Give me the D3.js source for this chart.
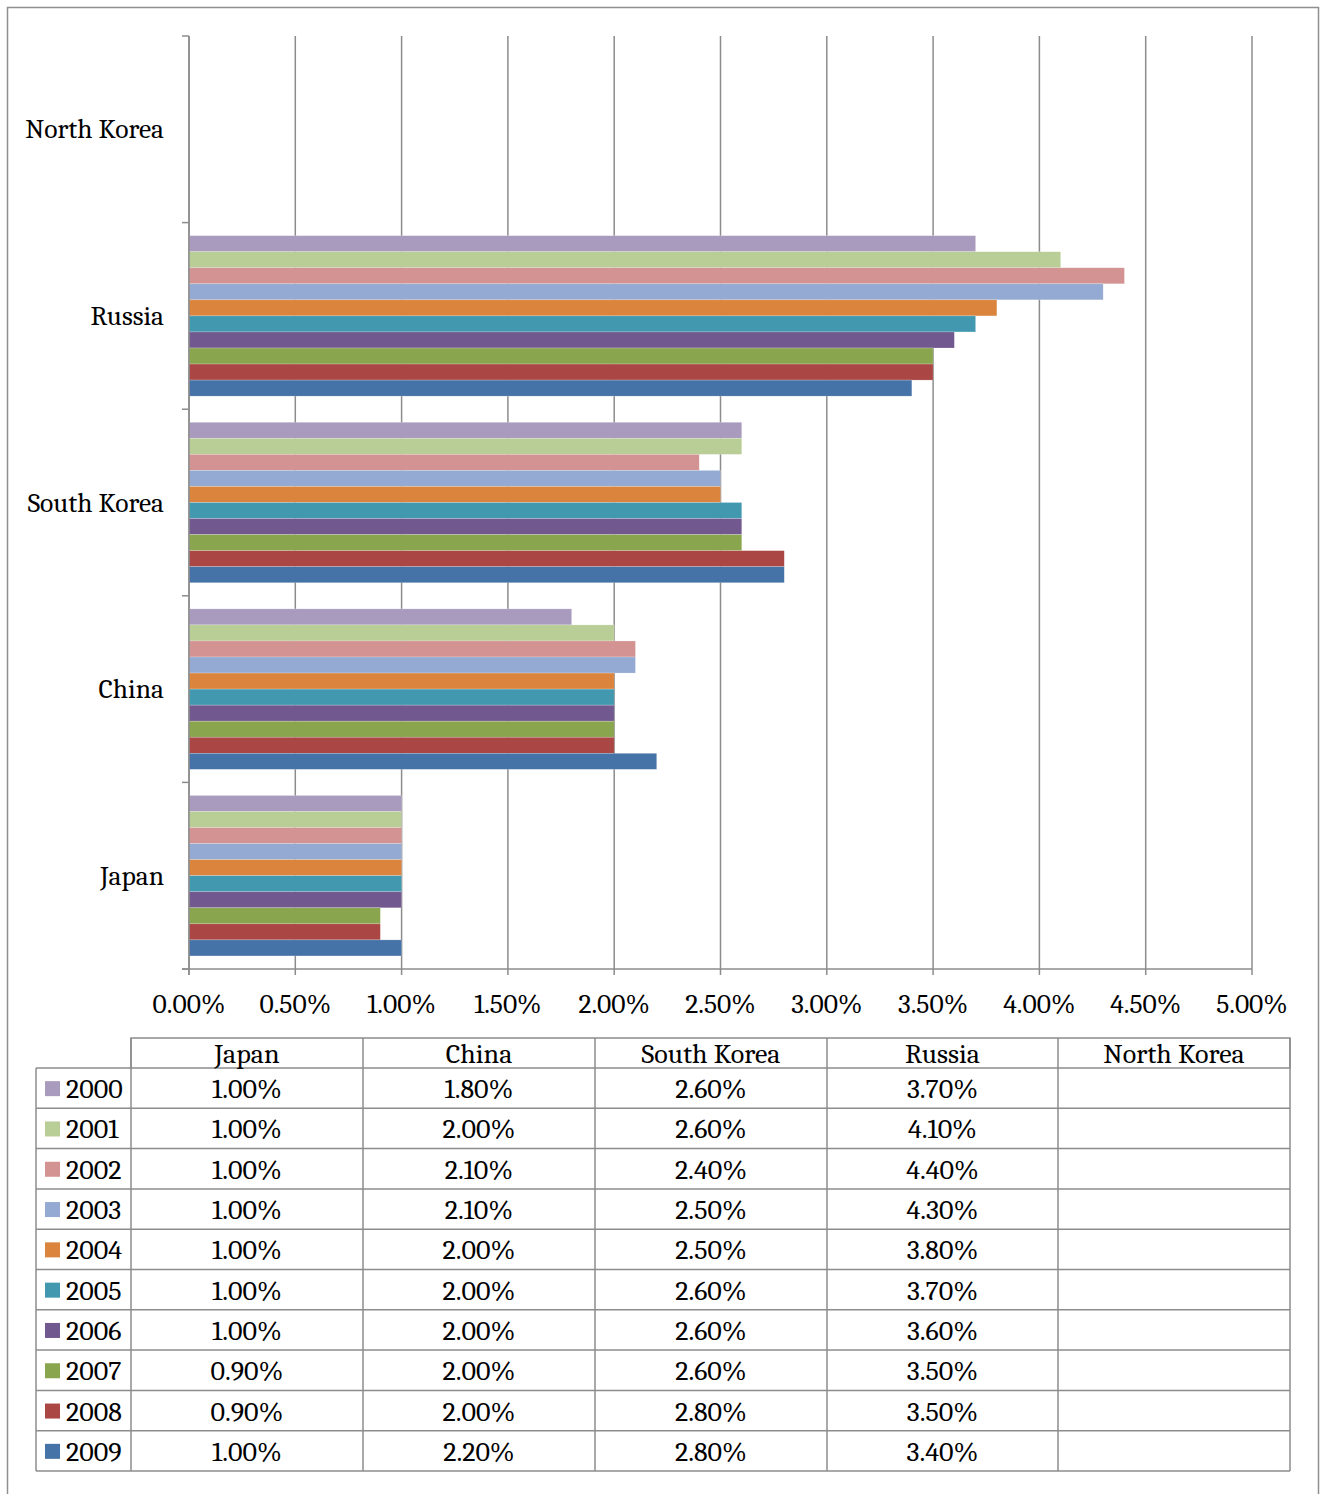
<!DOCTYPE html>
<html>
<head>
<meta charset="utf-8">
<script src="https://cdn.jsdelivr.net/npm/d3@7"></script>
<style>
  html, body { margin: 0; padding: 0; background: #fff; }
  svg { display: block; }
</style>
</head>
<body>
<svg id="chart" width="1321" height="1494"></svg>
<script>
// ---- data ----
const categories = ["Japan", "China", "South Korea", "Russia", "North Korea"];
const years = ["2000", "2001", "2002", "2003", "2004", "2005", "2006", "2007", "2008", "2009"];
const colors = ["#A99BBD", "#B9CD96", "#D39392", "#94AAD2", "#DB843D", "#4198AF", "#71588F", "#89A54E", "#AA4643", "#4572A7"];
const v2000 = [1.00, 1.80, 2.60, 3.70, null];
const v2001 = [1.00, 2.00, 2.60, 4.10, null];
const v2002 = [1.00, 2.10, 2.40, 4.40, null];
const v2003 = [1.00, 2.10, 2.50, 4.30, null];
const v2004 = [1.00, 2.00, 2.50, 3.80, null];
const v2005 = [1.00, 2.00, 2.60, 3.70, null];
const v2006 = [1.00, 2.00, 2.60, 3.60, null];
const v2007 = [0.90, 2.00, 2.60, 3.50, null];
const v2008 = [0.90, 2.00, 2.80, 3.50, null];
const v2009 = [1.00, 2.20, 2.80, 3.40, null];
const seriesValues = [v2000, v2001, v2002, v2003, v2004, v2005, v2006, v2007, v2008, v2009];
const xTicks = [0, 0.5, 1, 1.5, 2, 2.5, 3, 3.5, 4, 4.5, 5];

const FONT = "Cambria, 'DejaVu Serif', serif";
const FS = 27.5;
const FST = 28;
const GRID = "#8c8c8c";

const svg = d3.select("#chart");

// outer frame
svg.append("rect").attr("x", 7.5).attr("y", 7.5).attr("width", 1311).attr("height", 1500)
  .attr("fill", "none").attr("stroke", "#8f8f8f").attr("stroke-width", 1.5);

const plot = { left: 189, right: 1252, top: 36, bottom: 969 };
const x = d3.scaleLinear().domain([0, 5]).range([plot.left, plot.right]);
const y = d3.scaleBand().domain(categories.slice().reverse()).range([plot.top, plot.bottom]).paddingInner(0.14).paddingOuter(0.07);
const yBand = d3.scaleBand().domain(categories.slice().reverse()).range([plot.top, plot.bottom]);
const ySub = d3.scaleBand().domain(years).range([0, y.bandwidth()]);

// gridlines
svg.append("g").selectAll("line").data(xTicks).join("line")
  .attr("x1", d => x(d)).attr("x2", d => x(d))
  .attr("y1", plot.top).attr("y2", plot.bottom + 6)
  .attr("stroke", GRID).attr("stroke-width", 1.5);

// bars
const groups = svg.append("g").selectAll("g").data(categories).join("g")
  .attr("transform", c => `translate(0,${y(c)})`);
groups.selectAll("rect")
  .data((c) => { const ci = categories.indexOf(c); return years.map((yr, i) => ({ yr, i, v: seriesValues[i][ci] })); })
  .join("rect")
  .filter(d => d.v != null)
  .attr("x", x(0))
  .attr("y", d => ySub(d.yr))
  .attr("width", d => x(d.v) - x(0))
  .attr("height", ySub.bandwidth())
  .attr("fill", d => colors[d.i])
  .attr("stroke", "rgba(255,255,255,0.35)").attr("stroke-width", 0.6);

// y axis line and ticks
svg.append("line").attr("x1", plot.left).attr("x2", plot.left).attr("y1", plot.top).attr("y2", plot.bottom + 6)
  .attr("stroke", GRID).attr("stroke-width", 1.5);
const bounds = categories.map(c => yBand(c)).concat([plot.bottom]);
svg.append("g").selectAll("line").data(bounds).join("line")
  .attr("x1", plot.left - 7).attr("x2", plot.left).attr("y1", d => d).attr("y2", d => d)
  .attr("stroke", GRID).attr("stroke-width", 1.5);
// x axis line
svg.append("line").attr("x1", plot.left - 7).attr("x2", plot.right).attr("y1", plot.bottom).attr("y2", plot.bottom)
  .attr("stroke", GRID).attr("stroke-width", 1.5);

// category labels
svg.append("g").selectAll("text").data(categories).join("text")
  .attr("x", 164).attr("y", c => yBand(c) + yBand.bandwidth() / 2)
  .attr("text-anchor", "end").attr("dominant-baseline", "central")
  .attr("font-family", FONT).attr("font-size", FS).attr("fill", "#000")
  .text(c => c);

// x tick labels
svg.append("g").selectAll("text").data(xTicks).join("text")
  .attr("x", d => x(d)).attr("y", 1004)
  .attr("text-anchor", "middle").attr("dominant-baseline", "central")
  .attr("font-family", FONT).attr("font-size", FS).attr("fill", "#000")
  .text(d => d3.format(".2f")(d) + "%");

// data table
const colX = [36, 131, 363, 595, 827, 1058, 1290];
const headTop = 1038, headBottom = 1068, tableBottom = 1471;
const rowH = (tableBottom - headBottom) / years.length;
const tg = svg.append("g");
const TC = "#8c8c8c";
// header row
tg.append("rect").attr("x", colX[1]).attr("y", headTop).attr("width", colX[6] - colX[1]).attr("height", headBottom - headTop)
  .attr("fill", "none").attr("stroke", TC).attr("stroke-width", 1.5);
categories.forEach((c, ci) => {
  tg.append("line").attr("x1", colX[ci + 1]).attr("x2", colX[ci + 1]).attr("y1", headTop).attr("y2", tableBottom)
    .attr("stroke", TC).attr("stroke-width", 1.5);
  tg.append("text").attr("x", (colX[ci + 1] + colX[ci + 2]) / 2).attr("y", (headTop + headBottom) / 2 + 1)
    .attr("text-anchor", "middle").attr("dominant-baseline", "central")
    .attr("font-family", FONT).attr("font-size", FST).text(c);
});
tg.append("line").attr("x1", colX[6]).attr("x2", colX[6]).attr("y1", headTop).attr("y2", tableBottom)
  .attr("stroke", TC).attr("stroke-width", 1.5);
tg.append("line").attr("x1", colX[0]).attr("x2", colX[0]).attr("y1", headBottom).attr("y2", tableBottom)
  .attr("stroke", TC).attr("stroke-width", 1.5);
years.forEach((yr, i) => {
  const top = headBottom + i * rowH;
  tg.append("line").attr("x1", colX[0]).attr("x2", colX[6]).attr("y1", top + rowH).attr("y2", top + rowH)
    .attr("stroke", TC).attr("stroke-width", 1.5);
  if (i === 0) tg.append("line").attr("x1", colX[0]).attr("x2", colX[1]).attr("y1", top).attr("y2", top)
    .attr("stroke", TC).attr("stroke-width", 1.5);
  tg.append("rect").attr("x", 45).attr("y", top + rowH / 2 - 7).attr("width", 15).attr("height", 15).attr("fill", colors[i]);
  tg.append("text").attr("x", 66).attr("y", top + rowH / 2 + 1).attr("dominant-baseline", "central")
    .attr("font-family", FONT).attr("font-size", FST).text(yr);
  categories.forEach((c, ci) => {
    const v = seriesValues[i][ci];
    if (v == null) return;
    tg.append("text").attr("x", (colX[ci + 1] + colX[ci + 2]) / 2).attr("y", top + rowH / 2 + 1)
      .attr("text-anchor", "middle").attr("dominant-baseline", "central")
      .attr("font-family", FONT).attr("font-size", FST).text(d3.format(".2f")(v) + "%");
  });
});
</script>
</body>
</html>
